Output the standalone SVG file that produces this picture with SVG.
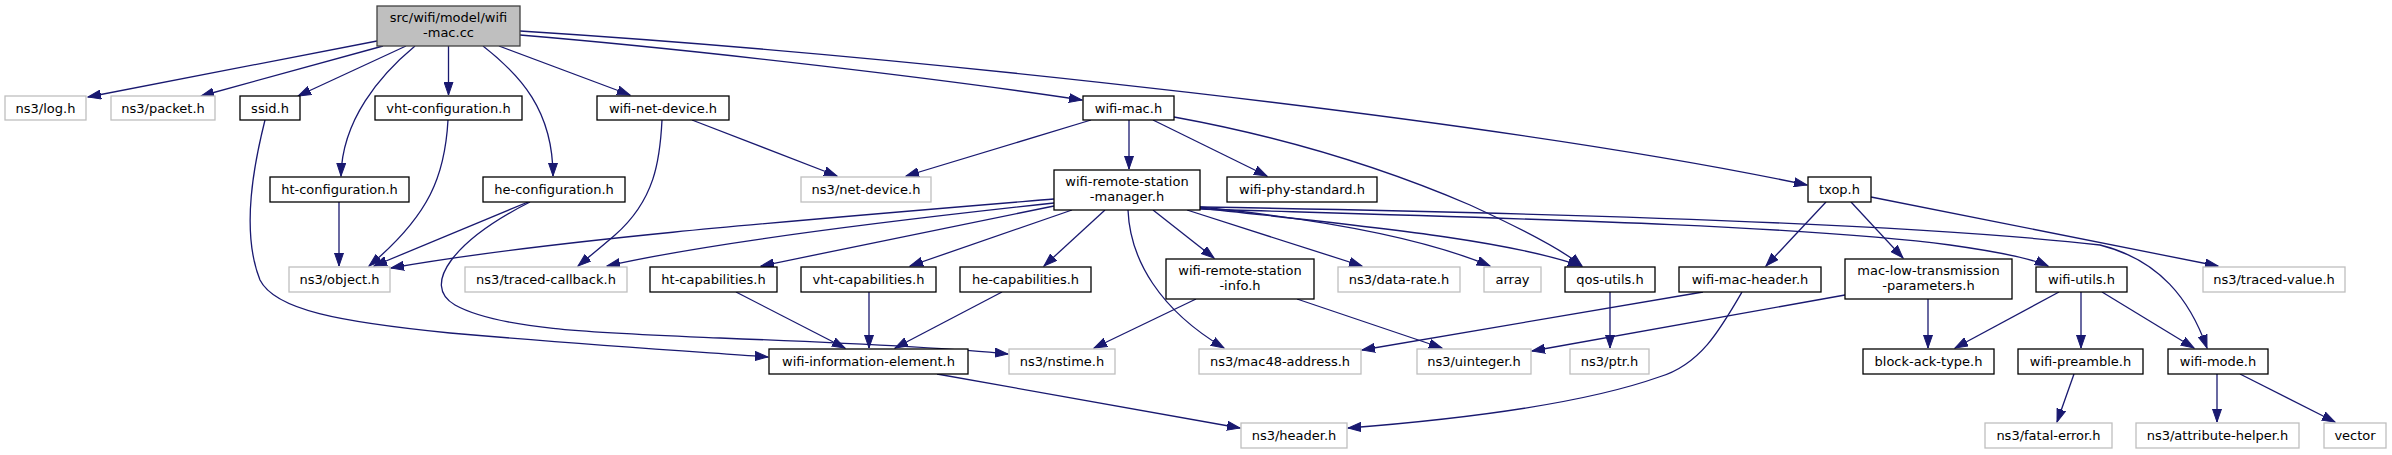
<svg xmlns="http://www.w3.org/2000/svg" width="2392" height="455" viewBox="0 0 2392 455">
<style>
text{font-family:"DejaVu Sans","Liberation Sans",sans-serif;font-size:13px;fill:#000;text-anchor:middle}
.n rect{fill:#fff;stroke:#000;stroke-width:1.3}
.g rect{fill:#fff;stroke:#bfbfbf;stroke-width:1.3}
.r rect{fill:#bfbfbf;stroke:#404040;stroke-width:1.3}
#edges path{fill:none;stroke:#191970;stroke-width:1.3;marker-end:url(#a)}
</style>
<defs>
<marker id="a" markerUnits="userSpaceOnUse" markerWidth="14" markerHeight="10" refX="13" refY="5" orient="auto" viewBox="0 0 14 10">
<path d="M0,0.5 L13,5 L0,9.5z" fill="#191970" stroke="#191970" stroke-width="1"/>
</marker>
</defs>
<rect width="2392" height="455" fill="#fff"/>
<g id="edges">
<path d="M377,41 L88,97"/>
<path d="M383,46 L201,96"/>
<path d="M406,46 L298,96"/>
<path d="M415,46 C380,75 342,120 341,176"/>
<path d="M448.5,46 L448.5,95"/>
<path d="M483,46 C520,75 553,110 553,176"/>
<path d="M499,46 L630,95"/>
<path d="M520,35 C700,50 950,80 1082,100"/>
<path d="M520,31 C900,55 1500,120 1807,185"/>
<path d="M692,120 L837,176"/>
<path d="M662,120 C660,160 655,200 615,235 C600,248 590,256 578,266"/>
<path d="M448,120 C445,175 430,215 369,266"/>
<path d="M339,202 L339,266"/>
<path d="M528,202 L374,266"/>
<path d="M530,202 C455,240 420,285 455,305 C500,330 600,333 720,338 C850,343 950,348 1008,354"/>
<path d="M265,120 C255,160 240,230 260,280 C275,310 340,322 450,333 C600,346 700,352 768,357"/>
<path d="M1091,120 L906,176"/>
<path d="M1129,120 L1129,169"/>
<path d="M1153,120 L1267,176"/>
<path d="M1174,117 C1300,140 1400,175 1470,205 C1520,228 1560,248 1582,266"/>
<path d="M1054,199 C800,220 550,240 391,268"/>
<path d="M1054,203 C850,225 700,245 607,266"/>
<path d="M1054,206 L761,266"/>
<path d="M1072,210 L910,266"/>
<path d="M1105,210 L1044,266"/>
<path d="M1153,210 L1214,258"/>
<path d="M1128,210 C1130,260 1160,310 1224,348"/>
<path d="M1187,210 L1362,266"/>
<path d="M1200,207 C1350,222 1440,245 1490,266"/>
<path d="M1200,208 C1350,225 1500,238 1581,266"/>
<path d="M1200,209 C1500,218 1800,225 1950,245 C2000,252 2030,258 2048,266"/>
<path d="M1200,207 C1500,212 1900,222 2100,245 C2160,260 2190,300 2207,348"/>
<path d="M1196,299 L1094,348"/>
<path d="M1297,299 L1442,348"/>
<path d="M736,292 L845,348"/>
<path d="M869,292 L869,348"/>
<path d="M1002,292 L895,348"/>
<path d="M937,374 L1240,428"/>
<path d="M1610,292 L1610,348"/>
<path d="M1703,292 L1362,350"/>
<path d="M1742,292 C1720,330 1700,365 1659,377 C1580,405 1450,420 1348,428"/>
<path d="M1826,202 L1766,266"/>
<path d="M1851,202 L1903,258"/>
<path d="M1871,197 L2218,266"/>
<path d="M1845,295 L1532,351"/>
<path d="M1928,299 L1928,348"/>
<path d="M2059,292 L1955,348"/>
<path d="M2081,292 L2081,348"/>
<path d="M2102,292 L2194,348"/>
<path d="M2074,374 L2057,422"/>
<path d="M2217,374 L2217,422"/>
<path d="M2240,374 L2335,422"/>
</g>
<g id="root" class="r"><rect x="377" y="6" width="143" height="40"/><text x="448.5" y="21.5">src/wifi/model/wifi</text><text x="448.5" y="36.5">-mac.cc</text></g>
<g id="log" class="g"><rect x="5" y="96" width="81" height="24"/><text x="45.5" y="112.5">ns3/log.h</text></g>
<g id="packet" class="g"><rect x="111" y="96" width="104" height="24"/><text x="163" y="112.5">ns3/packet.h</text></g>
<g id="ssid" class="n"><rect x="240" y="96" width="60" height="24"/><text x="270" y="112.5">ssid.h</text></g>
<g id="vhtconf" class="n"><rect x="375" y="96" width="147" height="24"/><text x="448.5" y="112.5">vht-configuration.h</text></g>
<g id="wnd" class="n"><rect x="597" y="96" width="132" height="24"/><text x="663" y="112.5">wifi-net-device.h</text></g>
<g id="wifimac" class="n"><rect x="1083" y="96" width="91" height="24"/><text x="1128.5" y="112.5">wifi-mac.h</text></g>
<g id="htconf" class="n"><rect x="270" y="177" width="139" height="25"/><text x="339.5" y="194">ht-configuration.h</text></g>
<g id="heconf" class="n"><rect x="483" y="177" width="142" height="25"/><text x="554" y="194">he-configuration.h</text></g>
<g id="netdev" class="g"><rect x="801" y="177" width="130" height="25"/><text x="866" y="194">ns3/net-device.h</text></g>
<g id="wrsm" class="n"><rect x="1054" y="170" width="146" height="40"/><text x="1127" y="185.5">wifi-remote-station</text><text x="1127" y="200.5">-manager.h</text></g>
<g id="phystd" class="n"><rect x="1227" y="177" width="150" height="25"/><text x="1302" y="194">wifi-phy-standard.h</text></g>
<g id="txop" class="n"><rect x="1808" y="177" width="63" height="25"/><text x="1839.5" y="194">txop.h</text></g>
<g id="object" class="g"><rect x="289" y="267" width="101" height="25"/><text x="339.5" y="284">ns3/object.h</text></g>
<g id="tcb" class="g"><rect x="465" y="267" width="162" height="25"/><text x="546" y="284">ns3/traced-callback.h</text></g>
<g id="htcap" class="n"><rect x="650" y="267" width="127" height="25"/><text x="713.5" y="284">ht-capabilities.h</text></g>
<g id="vhtcap" class="n"><rect x="801" y="267" width="135" height="25"/><text x="868.5" y="284">vht-capabilities.h</text></g>
<g id="hecap" class="n"><rect x="960" y="267" width="131" height="25"/><text x="1025.5" y="284">he-capabilities.h</text></g>
<g id="wrsi" class="n"><rect x="1166" y="259" width="148" height="40"/><text x="1240" y="274.5">wifi-remote-station</text><text x="1240" y="289.5">-info.h</text></g>
<g id="datarate" class="g"><rect x="1338" y="267" width="122" height="25"/><text x="1399" y="284">ns3/data-rate.h</text></g>
<g id="array" class="g"><rect x="1484" y="267" width="57" height="25"/><text x="1512.5" y="284">array</text></g>
<g id="qos" class="n"><rect x="1565" y="267" width="90" height="25"/><text x="1610" y="284">qos-utils.h</text></g>
<g id="wmh" class="n"><rect x="1679" y="267" width="142" height="25"/><text x="1750" y="284">wifi-mac-header.h</text></g>
<g id="mltp" class="n"><rect x="1845" y="259" width="167" height="40"/><text x="1928.5" y="274.5">mac-low-transmission</text><text x="1928.5" y="289.5">-parameters.h</text></g>
<g id="wutils" class="n"><rect x="2036" y="267" width="91" height="25"/><text x="2081.5" y="284">wifi-utils.h</text></g>
<g id="tvalue" class="g"><rect x="2203" y="267" width="142" height="25"/><text x="2274" y="284">ns3/traced-value.h</text></g>
<g id="wie" class="n"><rect x="769" y="349" width="199" height="25"/><text x="868.5" y="366">wifi-information-element.h</text></g>
<g id="nstime" class="g"><rect x="1009" y="349" width="106" height="25"/><text x="1062" y="366">ns3/nstime.h</text></g>
<g id="mac48" class="g"><rect x="1199" y="349" width="162" height="25"/><text x="1280" y="366">ns3/mac48-address.h</text></g>
<g id="uint" class="g"><rect x="1417" y="349" width="114" height="25"/><text x="1474" y="366">ns3/uinteger.h</text></g>
<g id="ptr" class="g"><rect x="1570" y="349" width="79" height="25"/><text x="1609.5" y="366">ns3/ptr.h</text></g>
<g id="blockack" class="n"><rect x="1863" y="349" width="131" height="25"/><text x="1928.5" y="366">block-ack-type.h</text></g>
<g id="preamble" class="n"><rect x="2018" y="349" width="125" height="25"/><text x="2080.5" y="366">wifi-preamble.h</text></g>
<g id="wmode" class="n"><rect x="2168" y="349" width="100" height="25"/><text x="2218" y="366">wifi-mode.h</text></g>
<g id="header" class="g"><rect x="1241" y="423" width="106" height="25"/><text x="1294" y="440">ns3/header.h</text></g>
<g id="fatal" class="g"><rect x="1985" y="423" width="127" height="25"/><text x="2048.5" y="440">ns3/fatal-error.h</text></g>
<g id="attr" class="g"><rect x="2136" y="423" width="163" height="25"/><text x="2217.5" y="440">ns3/attribute-helper.h</text></g>
<g id="vector" class="g"><rect x="2324" y="423" width="62" height="25"/><text x="2355" y="440">vector</text></g>
</svg>
